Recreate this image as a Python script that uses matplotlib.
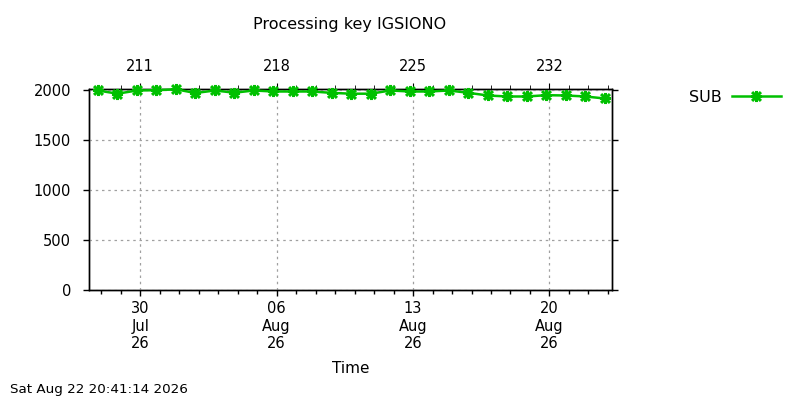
import datetime
import matplotlib
matplotlib.use('Agg')
import matplotlib.pyplot as plt
import matplotlib.dates as mdates
from matplotlib.path import Path

# daily processing counts for key IGSIONO
start_day = datetime.datetime(2026, 7, 27, 20, 0)
n_days = 27
sub_counts = [2000, 1968, 2000, 2003, 2012, 1975, 2000, 1978, 2000, 1990,
              1990, 1990, 1976, 1968, 1968, 2000, 1990, 1990, 2000, 1977,
              1950, 1940, 1940, 1953, 1950, 1940, 1920]
series_label = 'SUB'
title = 'Processing key IGSIONO'
stamp = 'Sat Aug 22 20:41:14 2026'
x_min = datetime.datetime(2026, 7, 27, 9, 0)
x_max = datetime.datetime(2026, 8, 23, 5, 0)

times = [start_day + datetime.timedelta(days=i) for i in range(n_days)]

green = '#00c000'

# gnuplot style asterisk: plus + cross
star = Path([(-1, 0), (1, 0), (0, -1), (0, 1), (-0.8, -0.8), (0.8, 0.8),
             (-0.8, 0.8), (0.8, -0.8)],
            [Path.MOVETO, Path.LINETO] * 4)

fig = plt.figure(figsize=(8, 4), dpi=100)
ax = fig.add_axes([89 / 800, 1 - 290 / 400, (612 - 89) / 800, (290 - 89) / 400])

line, = ax.plot(times, sub_counts, color=green, lw=1.8, marker=star,
                ms=8, mew=2.2, mec=green, label=series_label, clip_on=False,
                zorder=5)

ax.set_xlim(x_min, x_max)
ax.set_ylim(0, 2015)
ax.set_yticks([0, 500, 1000, 1500, 2000])

ax.xaxis.set_major_locator(mdates.DayLocator(bymonthday=[30, 6, 13, 20]))
ax.xaxis.set_minor_locator(mdates.DayLocator())
ax.xaxis.set_major_formatter(mdates.DateFormatter('%d\n%b\n%y'))
for lab in ax.get_xticklabels():
    lab.set_linespacing(1.2)

ax.grid(True, which='major', color='#a0a0a0', ls=(0, (2, 3)), lw=0.9)
ax.tick_params(axis='both', which='major', direction='out', length=4,
               labelsize=10.5, width=1)
ax.tick_params(axis='x', which='minor', direction='out', length=3, width=1)
ax.tick_params(axis='x', which='major', pad=4)
ax.tick_params(axis='y', which='major', pad=9, right=True)
ax.set_xlabel('Time', fontsize=11, labelpad=7.5)

# top axis: day of year
top = ax.twiny()
top.set_xlim(ax.get_xlim())
major_days = mdates.num2date(ax.xaxis.get_majorticklocs())
top.set_xticks(ax.xaxis.get_majorticklocs())
top.set_xticklabels([d.strftime('%j').lstrip('0') for d in major_days])
top.set_xticks(ax.xaxis.get_minorticklocs(), minor=True)
top.tick_params(axis='x', which='major', direction='out', length=4,
                labelsize=10.5, pad=6.5)
top.tick_params(axis='x', which='minor', direction='out', length=3)
top.set_zorder(ax.get_zorder() - 1)
ax.patch.set_visible(False)

for a in (ax, top):
    for sp in a.spines.values():
        sp.set_linewidth(1)

fig.text(350 / 800, 1 - 24 / 400, title, ha='center', va='center', fontsize=11.5)
fig.text(10 / 800, 1 - 390 / 400, stamp, ha='left', va='center', fontsize=9.7)

fig.legend(handles=[line], loc='center left', bbox_to_anchor=(675 / 800, 1 - 97 / 400),
           frameon=False, markerfirst=False, handlelength=3.1, handletextpad=0.6,
           fontsize=11.5, markerscale=1.0)

fig.savefig('out.png', dpi=100)
plt.close()
